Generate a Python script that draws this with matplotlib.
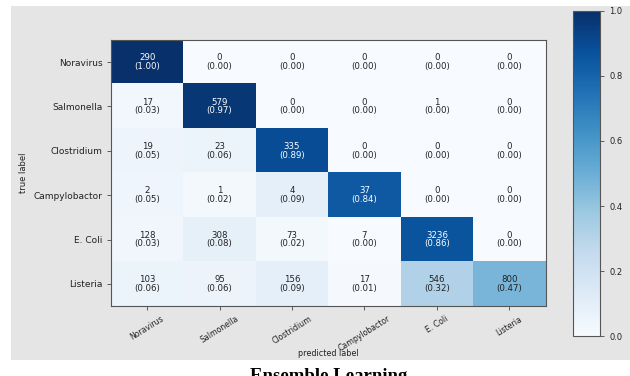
import numpy as np
import matplotlib
matplotlib.use("Agg")
import matplotlib.pyplot as plt

classes = ["Noravirus", "Salmonella", "Clostridium", "Campylobactor", "E. Coli", "Listeria"]
counts = np.array([
    [290, 0, 0, 0, 0, 0],
    [17, 579, 0, 0, 1, 0],
    [19, 23, 335, 0, 0, 0],
    [2, 1, 4, 37, 0, 0],
    [128, 308, 73, 7, 3236, 0],
    [103, 95, 156, 17, 546, 800],
])
norm = counts / counts.sum(axis=1, keepdims=True)

fig = plt.figure(figsize=(6.30, 3.76), dpi=100, facecolor="white")
bg = fig.add_axes([0.0175, 0.0426, 0.9825, 0.9414], zorder=-10)
bg.set_facecolor("#e5e5e5")
bg.set_xticks([]); bg.set_yticks([])
for s in bg.spines.values():
    s.set_visible(False)

ax = fig.add_axes([0.176, 0.186, 0.690, 0.708])
im = ax.imshow(norm, cmap="Blues", vmin=0, vmax=1, aspect="auto", interpolation="nearest")
for i in range(len(classes)):
    for j in range(len(classes)):
        c = "white" if norm[i, j] > 0.5 else "#222222"
        ax.text(j, i, f"{counts[i, j]}\n({norm[i, j]:.2f})", ha="center", va="center",
                fontsize=6.2, color=c, linespacing=0.95)

ax.set_xticks(range(len(classes)))
ax.set_yticks(range(len(classes)))
ax.set_xticklabels(classes, rotation=32, ha="center", fontsize=5.6, color="#222222")
ax.set_yticklabels(classes, fontsize=6.5, color="#222222")
ax.tick_params(length=3, width=0.6, color="#444444", pad=3)
ax.set_xlabel("predicted label", fontsize=5.8, color="#222222")
ax.xaxis.set_label_coords(0.5, -0.16)
ax.set_ylabel("true label", fontsize=6, color="#222222", labelpad=4,
              family="Liberation Sans Narrow")
for s in ax.spines.values():
    s.set_color("#555555")
    s.set_linewidth(0.8)

cax = fig.add_axes([0.910, 0.106, 0.043, 0.865])
cb = fig.colorbar(im, cax=cax)
cb.set_ticks([0.0, 0.2, 0.4, 0.6, 0.8, 1.0])
cb.ax.tick_params(labelsize=6, length=3, width=0.6, color="#444444", labelcolor="#222222")
cb.outline.set_edgecolor("#555555")
cb.outline.set_linewidth(0.8)

fig.text(0.521, 0.021, "Ensemble Learning", ha="center", va="top", fontsize=13.5,
         fontweight="bold", family="Liberation Serif")

fig.savefig("out.png", dpi=100, facecolor="white")
